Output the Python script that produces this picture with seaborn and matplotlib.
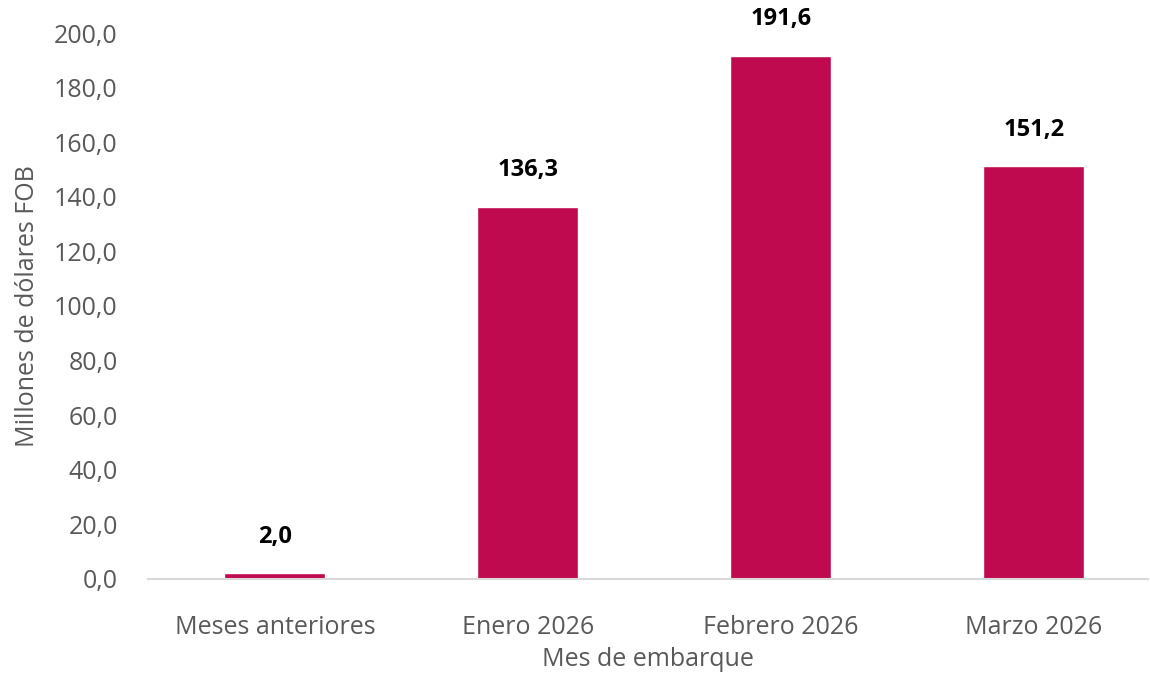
import matplotlib
matplotlib.use("Agg")
import matplotlib.pyplot as plt
import seaborn as sns
import pandas as pd

# data
categorias = ["Meses anteriores", "Enero 2026", "Febrero 2026", "Marzo 2026"]
valores = [2.0, 136.3, 191.6, 151.2]
yticks = [0, 20, 40, 60, 80, 100, 120, 140, 160, 180, 200]

sns.set_theme(style="white")
plt.rcParams["font.family"] = ["Open Sans", "DejaVu Sans"]

df = pd.DataFrame({"mes": categorias, "valor": valores})

fig = plt.figure(figsize=(11.5, 6.81), dpi=100)
ax = fig.add_axes([0.129, 0.150, 0.869, 0.8015])

sns.barplot(data=df, x="mes", y="valor", color="#C00A50", width=0.4,
            saturation=1, ax=ax)

for i, v in enumerate(valores):
    ax.text(i, v + 9, f"{v:.1f}".replace(".", ","), ha="center", va="bottom",
            fontsize=17, fontweight="bold", color="black")

ax.set_ylim(0, 200)
ax.set_xlim(-0.5, 3.45)
ax.set_yticks(yticks)
ax.set_yticklabels([f"{t:.1f}".replace(".", ",") for t in yticks])
ax.tick_params(axis="both", labelsize=18, colors="#595959", length=0)
ax.tick_params(axis="x", pad=26)
ax.tick_params(axis="y", pad=22)

for s in ["top", "right", "left"]:
    ax.spines[s].set_visible(False)
ax.spines["bottom"].set_color("#D9D9D9")
ax.spines["bottom"].set_linewidth(1.5)

ax.set_xlabel("Mes de embarque", fontsize=18, color="#595959", labelpad=5)
ax.set_ylabel("Millones de dólares FOB", fontsize=18, color="#595959", labelpad=10)

fig.savefig("out.png", dpi=100)
